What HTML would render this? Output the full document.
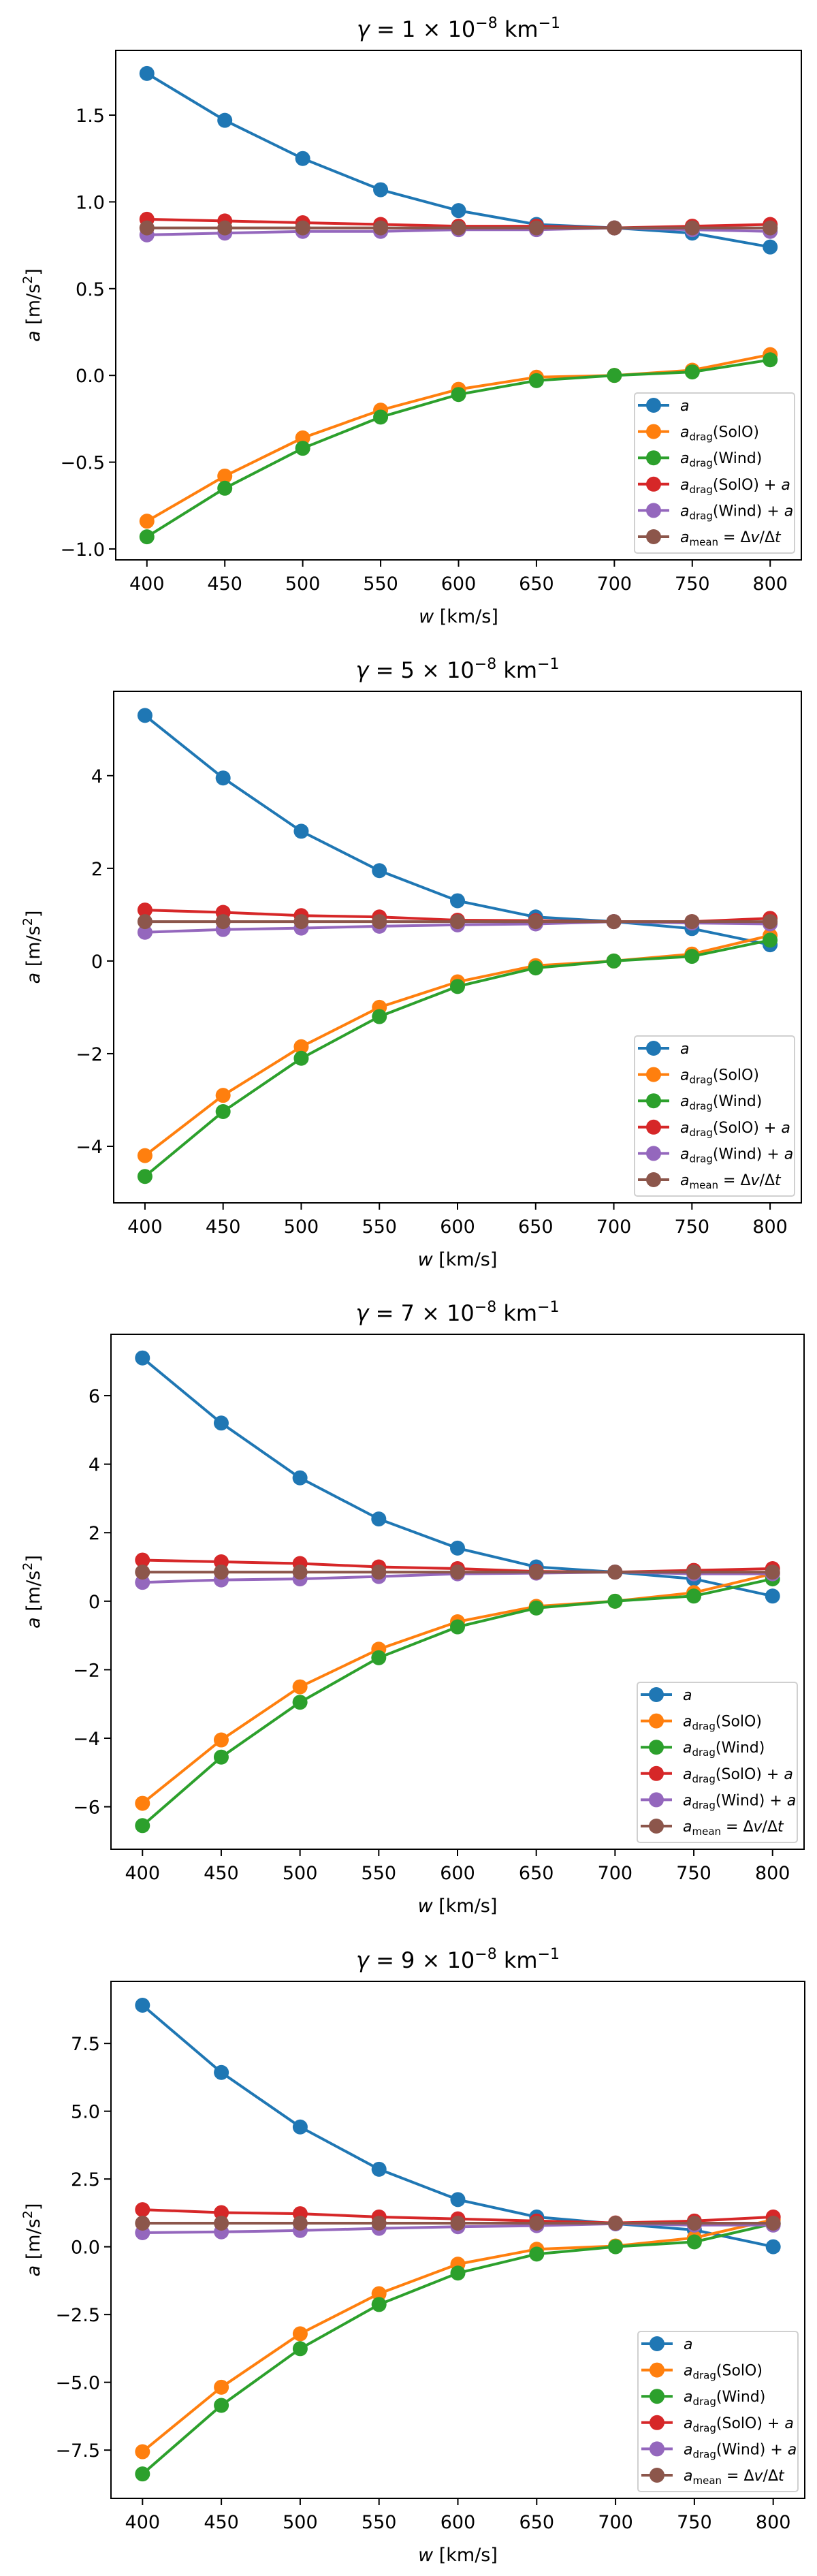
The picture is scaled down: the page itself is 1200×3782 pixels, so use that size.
<!DOCTYPE html>
<html><head><meta charset="utf-8"><title>Drag acceleration vs solar wind speed</title>
<style>
html,body{margin:0;padding:0;background:#fff;}
svg{display:block;font-family:"DejaVu Sans","Liberation Sans",sans-serif;}
</style></head>
<body>
<svg id="fig" width="1200" height="3782" viewBox="0 0 1200 3782" xmlns="http://www.w3.org/2000/svg"></svg>
<script>
// ---- data ----
const categories = [400, 450, 500, 550, 600, 650, 700, 750, 800];
const gammaLabels = ["1", "5", "7", "9"];
const seriesNames = ["a", "drag-solo", "drag-wind", "drag-solo-plus-a", "drag-wind-plus-a", "a-mean"];
const colors = ["#1f77b4", "#ff7f0e", "#2ca02c", "#d62728", "#9467bd", "#8c564b"];

const p1_a       = [1.74, 1.47, 1.25, 1.07, 0.95, 0.87, 0.85, 0.82, 0.74];
const p1_solo    = [-0.84, -0.58, -0.36, -0.20, -0.08, -0.01, 0.00, 0.03, 0.12];
const p1_wind    = [-0.93, -0.65, -0.42, -0.24, -0.11, -0.03, 0.00, 0.02, 0.09];
const p1_soloA   = [0.90, 0.89, 0.88, 0.87, 0.86, 0.86, 0.85, 0.86, 0.87];
const p1_windA   = [0.81, 0.82, 0.83, 0.83, 0.84, 0.84, 0.85, 0.84, 0.83];
const p1_mean    = [0.85, 0.85, 0.85, 0.85, 0.85, 0.85, 0.85, 0.85, 0.85];

const p2_a       = [5.3, 3.95, 2.8, 1.95, 1.3, 0.95, 0.85, 0.7, 0.35];
const p2_solo    = [-4.2, -2.9, -1.85, -1.0, -0.45, -0.1, 0.0, 0.15, 0.55];
const p2_wind    = [-4.65, -3.25, -2.1, -1.2, -0.55, -0.15, 0.0, 0.1, 0.45];
const p2_soloA   = [1.1, 1.05, 0.98, 0.95, 0.88, 0.87, 0.85, 0.85, 0.92];
const p2_windA   = [0.62, 0.68, 0.71, 0.75, 0.78, 0.80, 0.85, 0.82, 0.80];
const p2_mean    = [0.85, 0.85, 0.85, 0.85, 0.85, 0.85, 0.85, 0.85, 0.85];

const p3_a       = [7.1, 5.2, 3.6, 2.4, 1.55, 1.0, 0.85, 0.65, 0.15];
const p3_solo    = [-5.9, -4.05, -2.5, -1.4, -0.6, -0.15, 0.0, 0.25, 0.8];
const p3_wind    = [-6.55, -4.55, -2.95, -1.65, -0.75, -0.2, 0.0, 0.15, 0.65];
const p3_soloA   = [1.2, 1.15, 1.1, 1.0, 0.95, 0.87, 0.85, 0.9, 0.95];
const p3_windA   = [0.55, 0.62, 0.65, 0.72, 0.8, 0.82, 0.85, 0.8, 0.8];
const p3_mean    = [0.85, 0.85, 0.85, 0.85, 0.85, 0.85, 0.85, 0.85, 0.85];

const p4_a       = [8.91, 6.43, 4.42, 2.86, 1.74, 1.1, 0.85, 0.62, 0.0];
const p4_solo    = [-7.56, -5.18, -3.21, -1.73, -0.64, -0.09, 0.03, 0.33, 1.0];
const p4_wind    = [-8.38, -5.85, -3.76, -2.13, -0.97, -0.27, 0.0, 0.18, 0.85];
const p4_soloA   = [1.37, 1.26, 1.22, 1.1, 1.03, 0.95, 0.88, 0.95, 1.1];
const p4_windA   = [0.52, 0.55, 0.6, 0.68, 0.74, 0.78, 0.85, 0.8, 0.8];
const p4_mean    = [0.87, 0.87, 0.87, 0.87, 0.87, 0.87, 0.87, 0.87, 0.87];

const p1_yticks = [-1.0, -0.5, 0.0, 0.5, 1.0, 1.5];
const p2_yticks = [-4, -2, 0, 2, 4];
const p3_yticks = [-6, -4, -2, 0, 2, 4, 6];
const p4_yticks = [-7.5, -5.0, -2.5, 0.0, 2.5, 5.0, 7.5];
const p1_ytickLabels = ["\u22121.0", "\u22120.5", "0.0", "0.5", "1.0", "1.5"];
const p2_ytickLabels = ["\u22124", "\u22122", "0", "2", "4"];
const p3_ytickLabels = ["\u22126", "\u22124", "\u22122", "0", "2", "4", "6"];
const p4_ytickLabels = ["\u22127.5", "\u22125.0", "\u22122.5", "0.0", "2.5", "5.0", "7.5"];
const xtickLabels = ["400", "450", "500", "550", "600", "650", "700", "750", "800"];

// ---- layout (not data) ----
const panels = [
  {L:170, R:1177, T:74,   B:822,  ymin:-1.063, ymax:1.873, series:[p1_a,p1_solo,p1_wind,p1_soloA,p1_windA,p1_mean], ticks:p1_yticks, tl:p1_ytickLabels},
  {L:167, R:1177, T:1015, B:1766, ymin:-5.22,  ymax:5.82,  series:[p2_a,p2_solo,p2_wind,p2_soloA,p2_windA,p2_mean], ticks:p2_yticks, tl:p2_ytickLabels},
  {L:163, R:1181, T:1959, B:2715, ymin:-7.24,  ymax:7.79,  series:[p3_a,p3_solo,p3_wind,p3_soloA,p3_windA,p3_mean], ticks:p3_yticks, tl:p3_ytickLabels},
  {L:163, R:1182, T:2909, B:3668, ymin:-9.28,  ymax:9.79,  series:[p4_a,p4_solo,p4_wind,p4_soloA,p4_windA,p4_mean], ticks:p4_yticks, tl:p4_ytickLabels}
];
const NS = "http://www.w3.org/2000/svg";
const svg = document.getElementById("fig");
function mk(tag, attrs, parent){
  const e = document.createElementNS(NS, tag);
  for (const k in attrs) e.setAttribute(k, attrs[k]);
  (parent||svg).appendChild(e);
  return e;
}
const legendLabels = [
  ['<tspan font-style="italic">a</tspan>'],
  ['<tspan font-style="italic">a</tspan><tspan font-size="15" dy="5">drag</tspan><tspan dy="-5">(SolO)</tspan>'],
  ['<tspan font-style="italic">a</tspan><tspan font-size="15" dy="5">drag</tspan><tspan dy="-5">(Wind)</tspan>'],
  ['<tspan font-style="italic">a</tspan><tspan font-size="15" dy="5">drag</tspan><tspan dy="-5">(SolO) + </tspan><tspan font-style="italic">a</tspan>'],
  ['<tspan font-style="italic">a</tspan><tspan font-size="15" dy="5">drag</tspan><tspan dy="-5">(Wind) + </tspan><tspan font-style="italic">a</tspan>'],
  ['<tspan font-style="italic">a</tspan><tspan font-size="15" dy="5">mean</tspan><tspan dy="-5"> = Δ</tspan><tspan font-style="italic">v</tspan><tspan>/Δ</tspan><tspan font-style="italic">t</tspan>']
];

panels.forEach((p, pi) => {
  const g = mk("g", {});
  
  
  const xmin = 380, xmax = 820;
  const xs = v => p.L + (v - xmin) / (xmax - xmin) * (p.R - p.L);
  const ys = v => p.B - (v - p.ymin) / (p.ymax - p.ymin) * (p.B - p.T);

  // title
  const t = mk("text", {x:(p.L+p.R)/2, y:p.T-20, "text-anchor":"middle", "font-size":"32", fill:"#000"}, g);
  
  
  t.innerHTML = '<tspan font-style="italic">γ</tspan> = ' + gammaLabels[pi] + ' × 10<tspan font-size="22" dy="-13">−8</tspan><tspan dy="13"> km</tspan><tspan font-size="22" dy="-13">−1</tspan>';

  // series
  p.series.forEach((vals, si) => {
    const sg = mk("g", {}, g);
    
    
    const pts = categories.map((c, i) => xs(c).toFixed(1) + "," + ys(vals[i]).toFixed(1)).join(" ");
    const line = mk("polyline", {points:pts, fill:"none", stroke:colors[si], "stroke-width":"4"}, sg);
    
    
    categories.forEach((c, i) => {
      const m = mk("circle", {cx:xs(c), cy:ys(vals[i]), r:"11", fill:colors[si]}, sg);
      
      
    });
  });

  // frame
  const fr = mk("rect", {x:p.L, y:p.T, width:p.R-p.L, height:p.B-p.T, fill:"none", stroke:"#000", "stroke-width":"2"}, g);
  
  

  // x ticks
  categories.forEach((c, i) => {
    const tk = mk("line", {x1:xs(c), x2:xs(c), y1:p.B, y2:p.B+10, stroke:"#000", "stroke-width":"2"}, g);
    
    
    const tl = mk("text", {x:xs(c), y:p.B+44, "text-anchor":"middle", "font-size":"27", fill:"#000"}, g);
    
    
    tl.textContent = xtickLabels[i];
  });
  // y ticks
  p.ticks.forEach((v, i) => {
    const tk = mk("line", {x1:p.L-10, x2:p.L, y1:ys(v), y2:ys(v), stroke:"#000", "stroke-width":"2"}, g);
    
    
    const tl = mk("text", {x:p.L-16, y:ys(v)+10, "text-anchor":"end", "font-size":"27", fill:"#000"}, g);
    
    
    tl.textContent = p.tl[i];
  });
  // axis labels
  const xl = mk("text", {x:(p.L+p.R)/2, y:p.B+92, "text-anchor":"middle", "font-size":"27", fill:"#000"}, g);
  
  
  xl.innerHTML = '<tspan font-style="italic">w</tspan> [km/s]';
  const cy = (p.T+p.B)/2;
  const yl = mk("text", {x:0, y:0, transform:"translate(58," + cy + ") rotate(-90)", "text-anchor":"middle", "font-size":"27", fill:"#000"}, g);
  
  
  yl.innerHTML = '<tspan font-style="italic">a</tspan> [m/s<tspan font-size="19" dy="-11">2</tspan><tspan dy="11">]</tspan>';

  // legend
  const lx = p.R - 245, ly = p.B - 245;
  const lg = mk("g", {}, g);
  
  
  mk("rect", {x:lx, y:ly, width:235, height:235, rx:"4", fill:"#fff", "fill-opacity":"0.8", stroke:"#d0d0d0", "stroke-width":"2"}, lg);
  seriesNames.forEach((n, si) => {
    const ry = ly + 18 + si * 38.6;
    const e = mk("g", {}, lg);
    
    
    mk("line", {x1:lx+5, x2:lx+51, y1:ry, y2:ry, stroke:colors[si], "stroke-width":"4"}, e);
    mk("circle", {cx:lx+28, cy:ry, r:"11", fill:colors[si]}, e);
    const tx = mk("text", {x:lx+67, y:ry+8, "font-size":"22", fill:"#000"}, e);
    tx.innerHTML = legendLabels[si][0];
  });
});
</script>
</body></html>
